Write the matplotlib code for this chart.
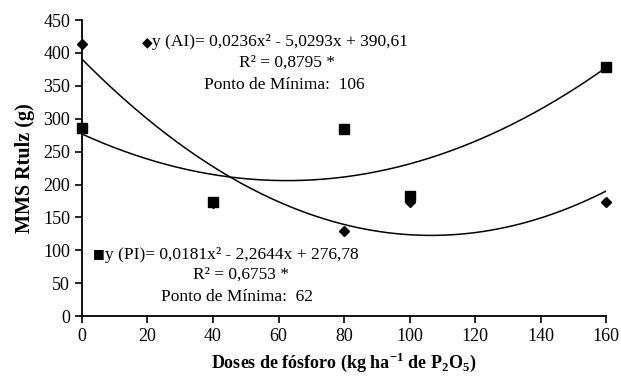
import numpy as np
import matplotlib.pyplot as plt

plt.rcParams['font.family'] = ['Liberation Serif', 'DejaVu Sans']
plt.rcParams['mathtext.fontset'] = 'custom'
plt.rcParams['mathtext.rm'] = 'Liberation Serif'
plt.rcParams['mathtext.bf'] = 'Liberation Serif:bold'

# P2O5 doses (kg/ha)
doses = [0, 40, 80, 100, 160]

# MMS Rtulz (g) observed values
ai_vals = [413, 172, 129, 173, 173]
pi_vals = [286, 173, 284, 183, 378]

# fitted quadratic coefficients (a, b, c)
ai_coef = [0.0236, -5.0293, 390.61]
pi_coef = [0.0181, -2.2644, 276.78]

fig = plt.figure(figsize=(6.21, 3.79), dpi=100)
ax = fig.add_axes([0.132, 0.166, 0.844, 0.781])

xs = np.linspace(0, 160, 200)
ax.plot(xs, np.polyval(ai_coef, xs), color='black', lw=1.1)
ax.plot(xs, np.polyval(pi_coef, xs), color='black', lw=1.1)

ax.plot(doses, pi_vals, 's', color='black', ms=7, clip_on=False)
ax.plot(doses, ai_vals, 'D', color='black', ms=5.5, clip_on=False)

ax.set_xlim(0, 160)
ax.set_ylim(0, 450)
ax.set_xticks(range(0, 161, 20))
ax.set_yticks(range(0, 451, 50))
ax.spines['top'].set_visible(False)
ax.spines['right'].set_visible(False)
ax.spines['left'].set_linewidth(1.3)
ax.spines['bottom'].set_linewidth(1.3)
ax.tick_params(labelsize=13, width=1.2, length=5)

ax.set_ylabel('MMS Rtulz (g)', fontsize=14.5, fontweight='bold', labelpad=6)
ax.set_xlabel(r'Doses de fósforo (kg ha$^{\mathbf{-1}}$ de P$_{\mathbf{2}}$O$_{\mathbf{5}}$)',
              fontsize=13, fontweight='bold')

fs = 12.5
# legend symbols drawn a bit smaller than the text, as in the original
ax.text(0.134, 0.924, '\u25c6', transform=ax.transAxes, fontsize=10,
        va='center', ha='right', family='DejaVu Sans')
ax.text(0.134, 0.926, 'y (AI)= 0,0236x\u00b2 - 5,0293x + 390,61',
        transform=ax.transAxes, fontsize=fs, va='center', ha='left')
ax.text(0.30, 0.855, 'R\u00b2 = 0,8795 *', transform=ax.transAxes,
        fontsize=fs, va='center', ha='left')
ax.text(0.233, 0.78, 'Ponto de Mínima:  106', transform=ax.transAxes,
        fontsize=fs, va='center', ha='left')

ax.text(0.043, 0.212, '\u25a0', transform=ax.transAxes, fontsize=9,
        va='center', ha='right', family='DejaVu Sans')
ax.text(0.043, 0.206, 'y (PI)= 0,0181x\u00b2 - 2,2644x + 276,78',
        transform=ax.transAxes, fontsize=fs, va='center', ha='left')
ax.text(0.212, 0.139, 'R\u00b2 = 0,6753 *', transform=ax.transAxes,
        fontsize=fs, va='center', ha='left')
ax.text(0.151, 0.064, 'Ponto de Mínima:  62', transform=ax.transAxes,
        fontsize=fs, va='center', ha='left')

fig.savefig('out.png', dpi=100)
